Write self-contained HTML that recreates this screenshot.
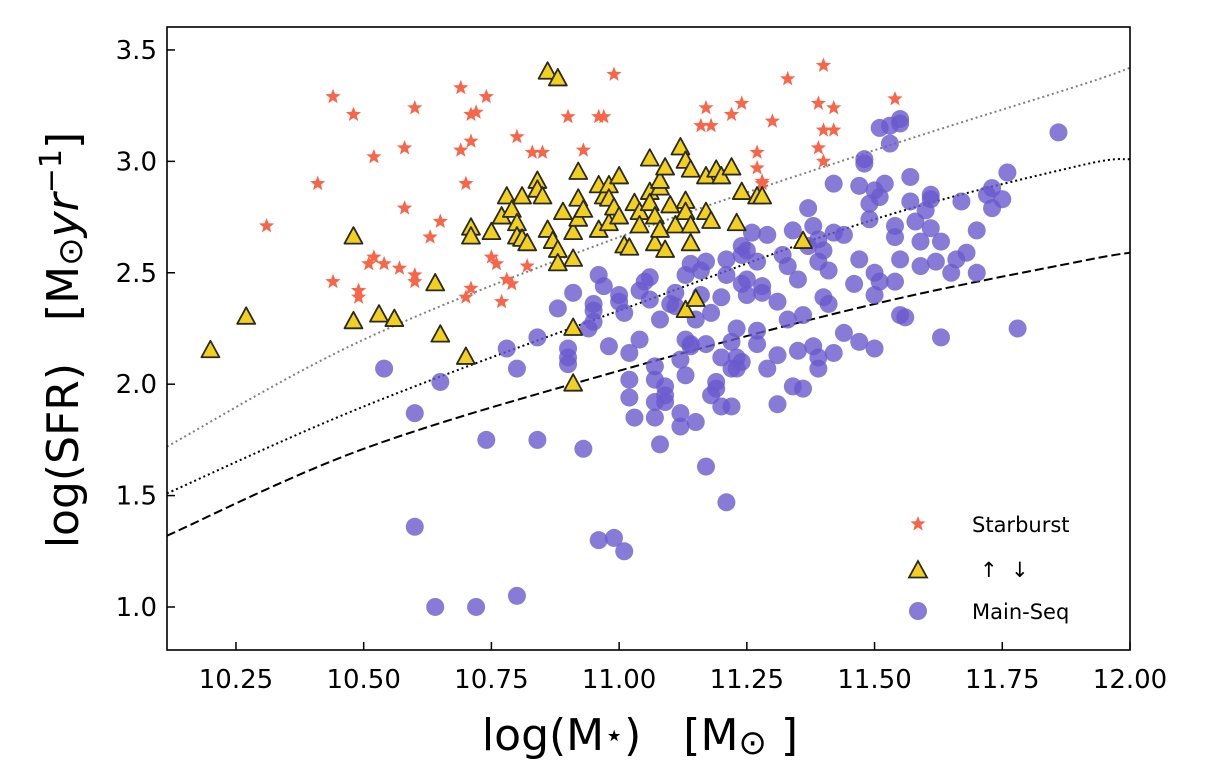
<!DOCTYPE html>
<html><head><meta charset="utf-8"><style>
html,body{margin:0;padding:0;background:#fff;}
svg{display:block;font-family:"DejaVu Sans","Liberation Sans",sans-serif;}
text{white-space:pre;}
</style></head><body>
<svg id="chart" width="1207" height="764" xmlns="http://www.w3.org/2000/svg">
<g id="curves"></g>
<g id="marks"></g>
<rect x="167" y="27" width="963" height="623" fill="none" stroke="#000" stroke-width="1.6"/>
<g id="axes"></g>
<text x="640" y="750" font-size="44" text-anchor="middle" xml:space="preserve">log(M<tspan font-size="32" dy="-4">⋆</tspan><tspan dy="4">)   [M</tspan><tspan font-size="34" dy="4">⊙</tspan><tspan dy="-4"> ]</tspan></text>
<text transform="translate(78,340) rotate(-90)" font-size="44" text-anchor="middle" xml:space="preserve">log(SFR)   [M<tspan font-size="34" dy="4">⊙</tspan><tspan font-style="italic" dy="-4">yr</tspan><tspan font-size="30" dy="-17">−1</tspan><tspan dy="17">]</tspan></text>
<g id="legend"></g>
</svg>
<script>
const xTicks=[10.25,10.5,10.75,11.0,11.25,11.5,11.75,12.0];
const xTickLabels=["10.25","10.50","10.75","11.00","11.25","11.50","11.75","12.00"];
const yTicks=[1.0,1.5,2.0,2.5,3.0,3.5];
const yTickLabels=["1.0","1.5","2.0","2.5","3.0","3.5"];
const starX=[10.31,10.41,10.44,10.44,10.48,10.49,10.49,10.52,10.52,10.51,10.54,10.58,10.58,10.57,10.60,10.60,10.60,10.63,10.65,10.69,10.69,10.70,10.71,10.71,10.72,10.74,10.70,10.71,10.75,10.76,10.77,10.78,10.79,10.80,10.82,10.83,10.85,10.90,10.93,10.96,10.97,10.99,11.16,11.17,11.18,11.22,11.24,11.27,11.27,11.30,11.33,11.28,11.28,11.39,11.40,11.40,11.39,11.40,11.42,11.42,11.54];
const starY=[2.71,2.90,3.29,2.46,3.21,2.42,2.39,3.02,2.57,2.54,2.54,3.06,2.79,2.52,2.49,2.46,3.24,2.66,2.73,3.33,3.05,2.90,3.21,3.09,3.22,3.29,2.39,2.43,2.57,2.54,2.37,2.47,2.45,3.11,2.53,3.04,3.04,3.20,3.05,3.20,3.20,3.39,3.16,3.24,3.16,3.21,3.26,3.04,2.97,3.18,3.37,2.91,2.90,3.26,3.43,3.14,3.06,3.00,3.24,3.14,3.28];
const triX=[10.20,10.27,10.48,10.48,10.53,10.56,10.64,10.65,10.70,10.71,10.71,10.75,10.77,10.78,10.79,10.80,10.80,10.81,10.81,10.82,10.84,10.84,10.85,10.86,10.86,10.88,10.87,10.88,10.88,10.89,10.91,10.91,10.91,10.91,10.92,10.92,10.92,10.93,10.96,10.96,10.97,10.98,10.98,10.98,10.99,11.00,11.00,11.01,11.02,11.03,11.04,11.04,11.06,11.06,11.06,11.07,11.07,11.08,11.08,11.08,11.09,11.09,11.10,11.11,11.12,11.13,11.13,11.13,11.13,11.14,11.14,11.14,11.15,11.17,11.17,11.18,11.19,11.20,11.22,11.23,11.24,11.27,11.28,11.36];
const triY=[2.15,2.30,2.66,2.28,2.31,2.29,2.45,2.22,2.12,2.70,2.66,2.68,2.75,2.84,2.78,2.72,2.66,2.84,2.65,2.63,2.91,2.87,2.84,2.69,3.40,3.37,2.64,2.60,2.54,2.77,2.68,2.56,2.25,2.00,2.95,2.83,2.74,2.78,2.89,2.69,2.84,2.89,2.72,2.83,2.79,2.93,2.75,2.62,2.61,2.81,2.77,2.71,2.86,2.81,3.01,2.63,2.75,2.88,2.69,2.91,2.60,2.97,2.80,2.71,3.06,3.00,2.82,2.77,2.33,2.63,2.71,2.96,2.38,2.93,2.77,2.73,2.96,2.93,2.97,2.72,2.86,2.84,2.84,2.64];
const msX=[10.54,10.60,10.60,10.64,10.65,10.72,10.74,10.78,10.80,10.80,10.84,10.84,10.88,10.90,10.90,10.90,10.91,10.93,10.94,10.95,10.95,10.96,10.96,10.97,10.98,10.99,11.00,11.00,11.01,11.01,11.02,11.02,11.02,11.03,11.04,11.05,11.06,11.06,11.07,11.07,11.07,11.07,11.08,11.08,11.09,11.09,11.09,11.10,11.11,11.11,11.12,11.12,11.12,11.13,11.13,11.13,11.14,11.14,11.14,11.15,11.15,11.16,11.16,11.17,11.17,11.17,11.18,11.18,11.19,11.19,11.20,11.20,11.20,11.21,11.21,11.22,11.22,11.22,11.23,11.23,11.23,11.24,11.24,11.24,11.24,11.25,11.25,11.25,11.26,11.27,11.27,11.27,11.28,11.28,11.29,11.29,11.31,11.31,11.31,11.32,11.33,11.33,11.34,11.34,11.35,11.35,11.36,11.36,11.37,11.37,11.38,11.38,11.39,11.39,11.39,11.39,11.40,11.40,11.41,11.41,11.42,11.42,11.42,11.44,11.44,11.46,11.47,11.47,11.47,11.48,11.48,11.49,11.49,11.50,11.50,11.50,11.50,11.51,11.51,11.51,11.52,11.53,11.53,11.54,11.54,11.54,11.55,11.55,11.55,11.55,11.56,11.57,11.57,11.58,11.59,11.59,11.60,11.61,11.61,11.61,11.62,11.63,11.63,11.65,11.66,11.67,11.68,11.70,11.70,11.72,11.73,11.73,11.75,11.76,11.78,11.86,10.95,11.04,11.21];
const msY=[2.07,1.87,1.36,1.00,2.01,1.00,1.75,2.16,2.07,1.05,1.75,2.21,2.34,2.16,2.09,2.12,2.41,1.71,2.25,2.28,2.33,2.49,1.30,2.44,2.17,1.31,2.40,2.37,2.32,1.25,2.02,2.14,1.94,1.85,2.42,2.46,2.48,2.38,2.08,2.02,1.92,1.85,1.73,2.29,1.99,1.95,1.92,2.36,2.41,2.35,2.11,1.81,1.87,2.49,2.20,2.04,2.18,2.54,2.17,2.29,1.83,2.40,2.51,1.63,2.55,2.18,2.32,1.95,2.01,1.98,2.39,2.12,1.90,2.49,1.47,1.90,2.19,2.07,2.12,2.25,2.07,2.62,2.45,2.10,2.58,2.40,2.60,2.47,2.68,2.24,2.18,2.55,2.44,2.41,2.07,2.67,2.13,2.37,1.91,2.58,2.29,2.53,2.69,1.99,2.47,2.15,2.31,1.98,2.79,2.62,2.17,2.71,2.07,2.12,2.65,2.55,2.39,2.60,2.36,2.51,2.14,2.90,2.68,2.67,2.23,2.45,2.19,2.56,2.89,3.01,2.99,2.74,2.81,2.40,2.87,2.16,2.50,3.15,2.46,2.84,2.90,3.08,3.16,2.71,2.66,2.46,2.56,3.17,3.19,2.31,2.30,2.82,2.93,2.73,2.64,2.53,2.78,2.85,2.70,2.83,2.55,2.21,2.64,2.50,2.56,2.82,2.59,2.69,2.50,2.85,2.88,2.79,2.83,2.95,2.25,3.13,2.36,2.20,2.56];
const curveX=[10.115,10.5,11.0,11.5,11.9,12.0];
const grayY=[1.72,2.20,2.66,3.05,3.34,3.42];
const dotY=[1.51,1.90,2.33,2.74,2.98,3.01];
const dashY=[1.32,1.71,2.06,2.36,2.55,2.59];

const NS="http://www.w3.org/2000/svg";
const L=167,R=1130,T=27,B=650,X0=10.115,X1=12.0,Y0=0.807,Y1=3.603;
function sx(v){return L+(v-X0)/(X1-X0)*(R-L);}
function sy(v){return B-(v-Y0)/(Y1-Y0)*(B-T);}
function mk(tag,attrs,parent){const e=document.createElementNS(NS,tag);for(const k in attrs)e.setAttribute(k,attrs[k]);parent.appendChild(e);return e;}
const axes=document.getElementById('axes'),marks=document.getElementById('marks'),curves=document.getElementById('curves'),legend=document.getElementById('legend');

xTicks.forEach((t,i)=>{const x=sx(t);
 const tk=mk('line',{x1:x,x2:x,y1:B,y2:B-8,stroke:'#000','stroke-width':1.5},axes);
 
 
 const tx=mk('text',{x:x,y:B+38,'font-size':26,'text-anchor':'middle'},axes);tx.textContent=xTickLabels[i];
 
 
});
yTicks.forEach((t,i)=>{const y=sy(t);
 const tk=mk('line',{x1:L,x2:L+8,y1:y,y2:y,stroke:'#000','stroke-width':1.5},axes);
 
 
 const tx=mk('text',{x:L-10,y:y+9,'font-size':26,'text-anchor':'end'},axes);tx.textContent=yTickLabels[i];
 
 
});

function curve(ys,dash,color,name){
 const P=curveX.map((x,i)=>[sx(x),sy(ys[i])]);
 let d='M'+P[0][0].toFixed(1)+','+P[0][1].toFixed(1);
 for(let i=0;i<P.length-1;i++){
  const p0=P[Math.max(0,i-1)],p1=P[i],p2=P[i+1],p3=P[Math.min(P.length-1,i+2)];
  const c1=[p1[0]+(p2[0]-p0[0])/6,p1[1]+(p2[1]-p0[1])/6],c2=[p2[0]-(p3[0]-p1[0])/6,p2[1]-(p3[1]-p1[1])/6];
  d+='C'+c1.map(v=>v.toFixed(1)).join(',')+' '+c2.map(v=>v.toFixed(1)).join(',')+' '+p2.map(v=>v.toFixed(1)).join(',');
 }
 const p=mk('path',{d:d,fill:'none',stroke:color,'stroke-width':2,'stroke-dasharray':dash},curves);
 
 
}
curve(grayY,'2,3','#808080','gray-dotted-curve');
curve(dotY,'2,3','#000','black-dotted-curve');
curve(dashY,'9,4','#000','dashed-curve');

function starPath(cx,cy,r){let d='';for(let i=0;i<10;i++){const a=-Math.PI/2+i*Math.PI/5,rr=i%2?r*0.42:r;d+=(i?'L':'M')+(cx+rr*Math.cos(a)).toFixed(1)+','+(cy+rr*Math.sin(a)).toFixed(1);}return d+'Z';}
function triPath(cx,cy,r){return 'M'+cx+','+(cy-r)+'L'+(cx+r*0.9)+','+(cy+r*0.65)+'L'+(cx-r*0.9)+','+(cy+r*0.65)+'Z';}

msX.forEach((v,i)=>{const c=mk('circle',{cx:sx(v),cy:sy(msY[i]),r:9,fill:'#6a5acd','fill-opacity':0.8},marks);
 
 });
starX.forEach((v,i)=>{const s=mk('path',{d:starPath(sx(v),sy(starY[i]),8),fill:'#f86549'},marks);
 
 });
triX.forEach((v,i)=>{const t=mk('path',{d:triPath(sx(v),sy(triY[i]),10),fill:'#f3d01f',stroke:'#2a2a1a','stroke-width':1.8,'stroke-linejoin':'round'},marks);
 
 });

const ls=mk('path',{d:starPath(918,524,8),fill:'#f86549'},legend);


const lt=mk('path',{d:triPath(918,571,10),fill:'#f3d01f',stroke:'#2a2a1a','stroke-width':1.8},legend);


const lc=mk('circle',{cx:918,cy:611,r:9,fill:'#6a5acd','fill-opacity':0.8},legend);


[['Starburst',532,'legend-starburst-label',972],['↑  ↓',577,'legend-limit-label',980],['Main-Seq',619,'legend-main-seq-label',972]].forEach(a=>{
 const t=mk('text',{x:a[3],y:a[1],'font-size':21},legend);t.textContent=a[0];
 
 });
</script>
</body></html>
